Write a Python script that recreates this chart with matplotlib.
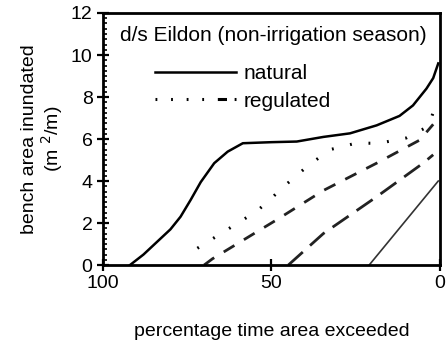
import numpy as np
import matplotlib.pyplot as plt
from matplotlib.lines import Line2D
from matplotlib.ticker import MultipleLocator

plt.rcParams['font.family'] = ['Liberation Sans', 'DejaVu Sans']

# percentage time exceeded vs bench area inundated (m2/m)
nat_pct = [92, 88, 83, 80, 77, 74, 71, 67, 63, 58.5, 50, 42.5, 34.6, 26.7, 18.8, 12, 8, 4, 2, 0.5]
nat_val = [0.0, 0.5, 1.25, 1.7, 2.3, 3.1, 3.95, 4.85, 5.4, 5.8, 5.85, 5.88, 6.1, 6.27, 6.65, 7.1, 7.6, 8.4, 8.9, 9.6]

reg_pct = [72, 68, 62, 54.5, 50.5, 47, 39, 32.5, 25, 18, 10, 3.5, 1]
reg_val = [0.8, 1.2, 1.8, 2.55, 3.1, 3.65, 4.75, 5.5, 5.8, 5.8, 6.05, 6.6, 7.7]

s2_pct = [70, 67.5, 48.5, 34.6, 18.8, 6, 2]
s2_val = [0.0, 0.3, 2.15, 3.55, 4.85, 5.95, 6.7]

s3_pct = [45, 34.6, 18.8, 5, 2]
s3_val = [0.0, 1.5, 3.25, 4.85, 5.25]

s4_pct = [21, 0.5]
s4_val = [0.0, 4.0]

fig = plt.figure(figsize=(4.48, 3.42), dpi=100)
ax = fig.add_axes([0.23, 0.225, 0.752, 0.737])

ax.plot(nat_pct, nat_val, color='black', lw=1.8)
ax.plot(reg_pct, reg_val, color='black', lw=2.2, linestyle=(0, (0.6, 5.5)))
ax.plot(s2_pct, s2_val, color='#222222', lw=2.0, linestyle=(0, (4.5, 4)))
ax.plot(s3_pct, s3_val, color='#222222', lw=2.0, linestyle=(0, (7, 3.5)))
ax.plot(s4_pct, s4_val, color='#333333', lw=1.2)

ax.set_xlim(100, 0)
ax.set_ylim(0, 12)
ax.set_xticks([100, 50, 0])
ax.set_yticks(np.arange(0, 13, 2))
ax.yaxis.set_minor_locator(MultipleLocator(0.25))
ax.tick_params(axis='both', which='major', direction='inout', length=8, width=1.6, labelsize=14)
ax.tick_params(axis='y', which='minor', direction='in', length=3, width=1.2)
for sp in ax.spines.values():
    sp.set_linewidth(2)

ax.set_ylabel('bench area inundated\n(m $^2$/m)', fontsize=14, labelpad=4, linespacing=1.05)
ax.set_xlabel('percentage time area exceeded', fontsize=14, labelpad=22)

ax.text(0.05, 0.89, 'd/s Eildon (non-irrigation season)', transform=ax.transAxes, fontsize=15)

handles = [
    Line2D([], [], color='black', lw=1.8),
    Line2D([], [], color='black', lw=2.2, linestyle=(0, (0.6, 4.5, 0.6, 4.5, 0.6, 4.5, 0.6, 4.5, 3, 2.5, 3, 2.5))),
]
ax.legend(handles, ['natural', 'regulated'], loc='upper left', bbox_to_anchor=(0.13, 0.83),
          frameon=False, fontsize=15, handlelength=3.9, handletextpad=0.35, labelspacing=0.4,
          borderaxespad=0)

fig.savefig('out.png', dpi=100)
